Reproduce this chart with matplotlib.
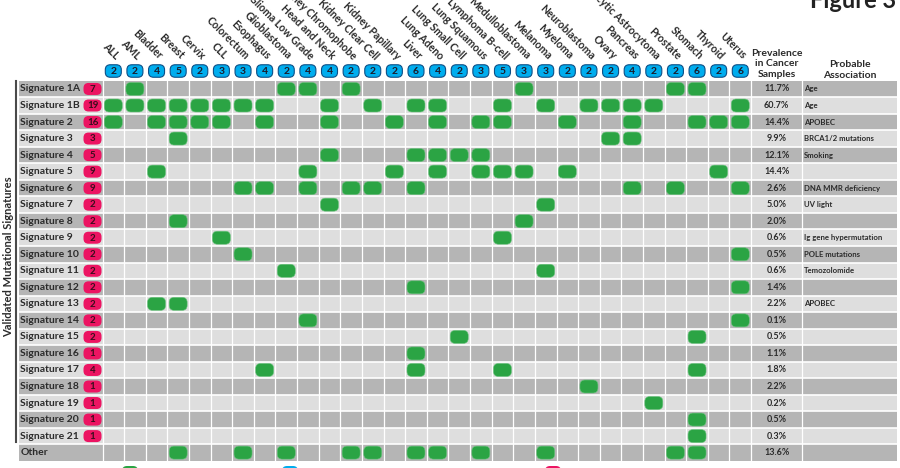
''' mutational signatures across cancer types - grid figure '''
import matplotlib
matplotlib.use('Agg')
import matplotlib.pyplot as plt
from matplotlib.patches import FancyBboxPatch, Rectangle

plt.rcParams['font.family'] = ['Lato', 'DejaVu Sans']

cancer_types = ['ALL', 'AML', 'Bladder', 'Breast', 'Cervix', 'CLL', 'Colorectum',
                'Esophagus', 'Glioblastoma', 'Glioma Low Grade', 'Head and Neck',
                'Kidney Chromophobe', 'Kidney Clear Cell', 'Kidney Papillary', 'Liver',
                'Lung Adeno', 'Lung Small Cell', 'Lung Squamous', 'Lymphoma B-cell',
                'Medulloblastoma', 'Melanoma', 'Myeloma', 'Neuroblastoma', 'Ovary',
                'Pancreas', 'Pilocytic Astrocytoma', 'Prostate', 'Stomach', 'Thyroid',
                'Uterus']

signatures = ['Signature 1A', 'Signature 1B'] + ['Signature %d' % n for n in range(2, 22)]

# indices into cancer_types where each signature was found
sig_cancers = [
    [1, 8, 9, 11, 19, 26, 27],                                          # 1A
    [0, 1, 2, 3, 4, 5, 6, 7, 10, 12, 14, 15, 18, 20, 22, 23, 24, 25, 29],  # 1B
    [0, 2, 3, 4, 5, 7, 10, 13, 15, 17, 18, 21, 24, 27, 28, 29],         # 2
    [3, 23, 24],                                                        # 3
    [10, 14, 15, 16, 17],                                               # 4
    [2, 9, 13, 15, 17, 18, 19, 21, 28],                                 # 5
    [6, 7, 9, 11, 12, 14, 24, 26, 29],                                  # 6
    [10, 20],                                                           # 7
    [3, 19],                                                            # 8
    [5, 18],                                                            # 9
    [6, 29],                                                            # 10
    [8, 20],                                                            # 11
    [14, 29],                                                           # 12
    [2, 3],                                                             # 13
    [9, 29],                                                            # 14
    [16, 27],                                                           # 15
    [14],                                                               # 16
    [7, 14, 18, 27],                                                    # 17
    [22],                                                               # 18
    [25],                                                               # 19
    [27],                                                               # 20
    [27],                                                               # 21
]
other_cancers = [3, 6, 8, 11, 12, 14, 15, 17, 20, 26, 27]

prevalence = [11.7, 60.7, 14.4, 9.9, 12.1, 14.4, 2.6, 5.0, 2.0, 0.6, 0.5, 0.6,
              1.4, 2.2, 0.1, 0.5, 1.1, 1.8, 2.2, 0.2, 0.5, 0.3, 13.6]
association = ['Age', 'Age', 'APOBEC', 'BRCA1/2 mutations', 'Smoking', '',
               'DNA MMR deficiency', 'UV light', '', 'Ig gene hypermutation',
               'POLE mutations', 'Temozolomide', '', 'APOBEC', '', '', '', '', '',
               '', '', '', '']

# layout (pixel units, y down)
W, H = 900, 468
GX0, CW = 102.5, 21.62        # grid left, column width
ROW0, RH = 80.7, 16.53        # first row top, row height
LBL_X0 = 19
PREV_X0 = GX0 + len(cancer_types) * CW
ASSOC_X0 = 802
RIGHT = 897

DARK, LIGHT = '#b5b5b5', '#dedede'
GREEN, BLUE, PINK = '#2ba444', '#00adee', '#ec1462'
TXT = '#2b2b2b'


def pill(ax, cx, cy, w, h, fc, ec='none', lw=0, r=5, z=3):
    ax.add_patch(FancyBboxPatch((cx - w / 2, cy - h / 2), w, h,
                                boxstyle='round,pad=0,rounding_size=%s' % r,
                                fc=fc, ec=ec, lw=lw, zorder=z))


fig = plt.figure(figsize=(W / 100, H / 100), dpi=100)
ax = fig.add_axes([0, 0, 1, 1])
ax.set_xlim(0, W)
ax.set_ylim(H, 0)
ax.axis('off')

row_names = signatures + ['Other']
rows = sig_cancers + [other_cancers]
nrows = len(row_names)
col_x = [GX0 + (c + 0.5) * CW for c in range(len(cancer_types))]

# row backgrounds
for i in range(nrows):
    top = ROW0 + i * RH
    ax.add_patch(Rectangle((LBL_X0, top), RIGHT - LBL_X0, RH,
                           fc=DARK if i % 2 == 0 else LIGHT, ec='none', zorder=1))
bottom = ROW0 + nrows * RH
for i in range(1, nrows):
    y = ROW0 + i * RH
    ax.plot([LBL_X0, RIGHT], [y, y], color='white', lw=1.2, zorder=2)
for k in range(len(cancer_types) + 1):
    x = GX0 + k * CW
    ax.plot([x, x], [ROW0, bottom], color='white', lw=0.9, zorder=2)
ax.plot([ASSOC_X0, ASSOC_X0], [ROW0, bottom], color='white', lw=0.9, zorder=2)

# signature / other rows
for i, (name, cols) in enumerate(zip(row_names, rows)):
    cy = ROW0 + (i + 0.5) * RH
    ax.text(LBL_X0 + 1.5, cy, name, ha='left', va='center', fontsize=7.5,
            weight='bold', color=TXT, zorder=4)
    for c in cols:
        pill(ax, col_x[c], cy, 18, 13, GREEN, ec='#6cc37f', lw=0.4, r=5)
    ax.text((PREV_X0 + ASSOC_X0) / 2, cy, '%.1f%%' % prevalence[i], ha='center',
            va='center', fontsize=6.5, weight='bold', color=TXT, zorder=4)
    if association[i]:
        ax.text(ASSOC_X0 + 2, cy, association[i], ha='left', va='center',
                fontsize=5.6, weight='bold', color=TXT, zorder=4)
    if i < len(signatures):
        pill(ax, 92.5, cy, 18, 12, PINK, r=5)
        ax.text(92.5, cy + 0.3, str(len(cols)), ha='center', va='center',
                fontsize=7, weight='bold', color='#3a0d1c', zorder=4)

# cancer type header
for c, name in enumerate(cancer_types):
    n = sum(1 for cols in sig_cancers if c in cols)
    pill(ax, col_x[c], 71, 16, 12.5, BLUE, ec='#0d4f86', lw=0.8, r=5)
    ax.text(col_x[c], 71.3, str(n), ha='center', va='center', fontsize=7.5,
            weight='bold', color='#1b1b2a', zorder=4)
    ax.text(col_x[c] + 1.5, 60, name, rotation=-45, rotation_mode='anchor',
            ha='right', va='baseline', fontsize=7.6, weight='bold', color=TXT)

ax.text((PREV_X0 + ASSOC_X0) / 2, 64, 'Prevalence\nin Cancer\nSamples', ha='center',
        va='center', fontsize=7.5, weight='bold', color=TXT, linespacing=1.2)
ax.text((ASSOC_X0 + RIGHT) / 2, 70, 'Probable\nAssociation', ha='center',
        va='center', fontsize=7.5, weight='bold', color=TXT, linespacing=1.2)

ax.text(896, 8.5, 'Figure 3', ha='right', va='baseline', fontsize=17,
        weight='bold', color='#222222')

ax.plot([16, 16], [81, 442], color='#4a4a4a', lw=1.5)
ax.text(8.5, 257, 'Validated Mutational Signatures', rotation=90, ha='center',
        va='center', fontsize=8, weight='bold', color=TXT)

# legend keys cut off at the bottom edge
for x, fc in [(130, GREEN), (290, BLUE), (553, PINK)]:
    pill(ax, x, 472, 16, 12, fc, r=5)

fig.savefig('out.png', dpi=100)
